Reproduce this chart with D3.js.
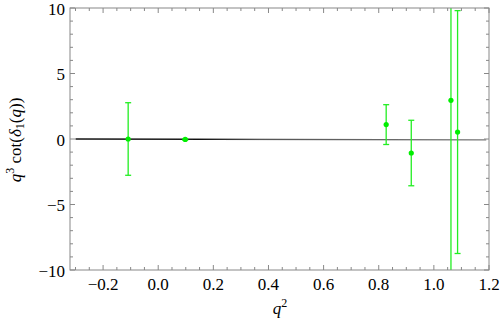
<!DOCTYPE html>
<html><head><meta charset="utf-8">
<script src="https://cdn.jsdelivr.net/npm/d3@7"></script>
<style>body{margin:0;background:#fff}svg{display:block}</style>
</head><body><svg id="c" width="500" height="327"></svg>
<script>
const q2 = [-0.109, 0.098, 0.827, 0.918, 1.062, 1.086];
const val = [0.0, -0.03, 1.1, -1.07, 2.95, 0.53];
const err = [2.77, 0.06, 1.52, 2.5, 15, 9.27];
const xTicks = [-0.2, 0.0, 0.2, 0.4, 0.6, 0.8, 1.0, 1.2];
const yTicks = [-10, -5, 0, 5, 10];
const fitX = [-0.3, 1.19];
const fitY = [0.0, -0.07];

const FONT = "'Liberation Serif', 'Times New Roman', Times, 'DejaVu Serif', serif";
const svg = d3.select("#c").style("font-family", FONT);
const L = 70, R = 489, T = 8, B = 270;
const x = d3.scaleLinear().domain([-0.32, 1.2]).range([L, R]);
const y = d3.scaleLinear().domain([-10, 10]).range([B, T]);
const fmt = v => (v < 0 ? "\u2212" : "") + Math.abs(v).toFixed(1);
const fmtY = v => (v < 0 ? "\u2212" : "") + Math.abs(v);

svg.append("clipPath").attr("id","clip").append("rect").attr("x",L).attr("y",T).attr("width",R-L).attr("height",B-T);

const grad = svg.append("defs").append("linearGradient").attr("id","g").attr("gradientUnits","userSpaceOnUse")
  .attr("x1", x(fitX[0])).attr("x2", x(fitX[1])).attr("y1",0).attr("y2",0);
grad.append("stop").attr("offset","0.3").attr("stop-color","#111");
grad.append("stop").attr("offset","0.45").attr("stop-color","#555");
grad.append("stop").attr("offset","1").attr("stop-color","#777");
svg.append("line").attr("x1", x(fitX[0])).attr("y1", y(fitY[0])).attr("x2", x(fitX[1])).attr("y2", y(fitY[1]))
  .attr("stroke","url(#g)").attr("stroke-width",1.4);

const g = svg.append("g").attr("clip-path","url(#clip)");
const green = "#22ee22";
q2.forEach((q,i)=>{
  const cx = x(q);
  g.append("line").attr("x1",cx).attr("x2",cx).attr("y1",y(val[i]-err[i])).attr("y2",y(val[i]+err[i]))
    .attr("stroke",green).attr("stroke-width",1.3);
  [val[i]-err[i], val[i]+err[i]].forEach(v=>{
    g.append("line").attr("x1",cx-3).attr("x2",cx+3).attr("y1",y(v)).attr("y2",y(v)).attr("stroke",green).attr("stroke-width",1.3);
  });
  g.append("circle").attr("cx",cx).attr("cy",y(val[i])).attr("r",2.6).attr("fill","#00ee00");
});

const ax = "#888";
svg.append("rect").attr("x",L).attr("y",T).attr("width",R-L).attr("height",B-T).attr("fill","none").attr("stroke",ax).attr("stroke-width",1);

const xMinor = d3.range(-0.3, 1.2001, 0.05).map(v=>+v.toFixed(2));
xMinor.forEach(v=>{
  const major = xTicks.some(t=>Math.abs(t-v)<1e-6);
  const len = major ? 5 : 3;
  svg.append("line").attr("x1",x(v)).attr("x2",x(v)).attr("y1",B).attr("y2",B-len).attr("stroke",ax);
  svg.append("line").attr("x1",x(v)).attr("x2",x(v)).attr("y1",T).attr("y2",T+len).attr("stroke",ax);
});
xTicks.forEach(v=>{
  svg.append("text").attr("x",x(v)).attr("y",290).attr("text-anchor","middle").style("font-family",FONT).attr("font-size",17).text(fmt(v));
});
d3.range(-10, 10.001, 1).forEach(v=>{
  const major = yTicks.includes(v);
  const len = major ? 5 : 3;
  svg.append("line").attr("x1",L).attr("x2",L+len).attr("y1",y(v)).attr("y2",y(v)).attr("stroke",ax);
  svg.append("line").attr("x1",R).attr("x2",R-len).attr("y1",y(v)).attr("y2",y(v)).attr("stroke",ax);
});
yTicks.forEach(v=>{
  svg.append("text").attr("x",65).attr("y",y(v)+6.5).attr("text-anchor","end").style("font-family",FONT).attr("font-size",17).text(fmtY(v));
});

const xl = svg.append("text").attr("x",280).attr("y",314).attr("text-anchor","middle").style("font-family",FONT).attr("font-size",17);
xl.append("tspan").attr("font-style","italic").text("q");
xl.append("tspan").attr("dy",-7).attr("font-size",12).text("2");

const yl = svg.append("text").attr("transform","translate(21,140) rotate(-90)").attr("text-anchor","middle").style("font-family",FONT).attr("font-size",17);
yl.append("tspan").attr("font-style","italic").text("q");
yl.append("tspan").attr("dy",-7).attr("font-size",12).text("3");
yl.append("tspan").attr("dy",7).text(" cot(");
yl.append("tspan").attr("font-style","italic").text("\u03B4");
yl.append("tspan").attr("dy",3).attr("font-size",12).text("1");
yl.append("tspan").attr("dy",-3).text("(");
yl.append("tspan").attr("font-style","italic").text("q");
yl.append("tspan").text("))");
</script></body></html>
